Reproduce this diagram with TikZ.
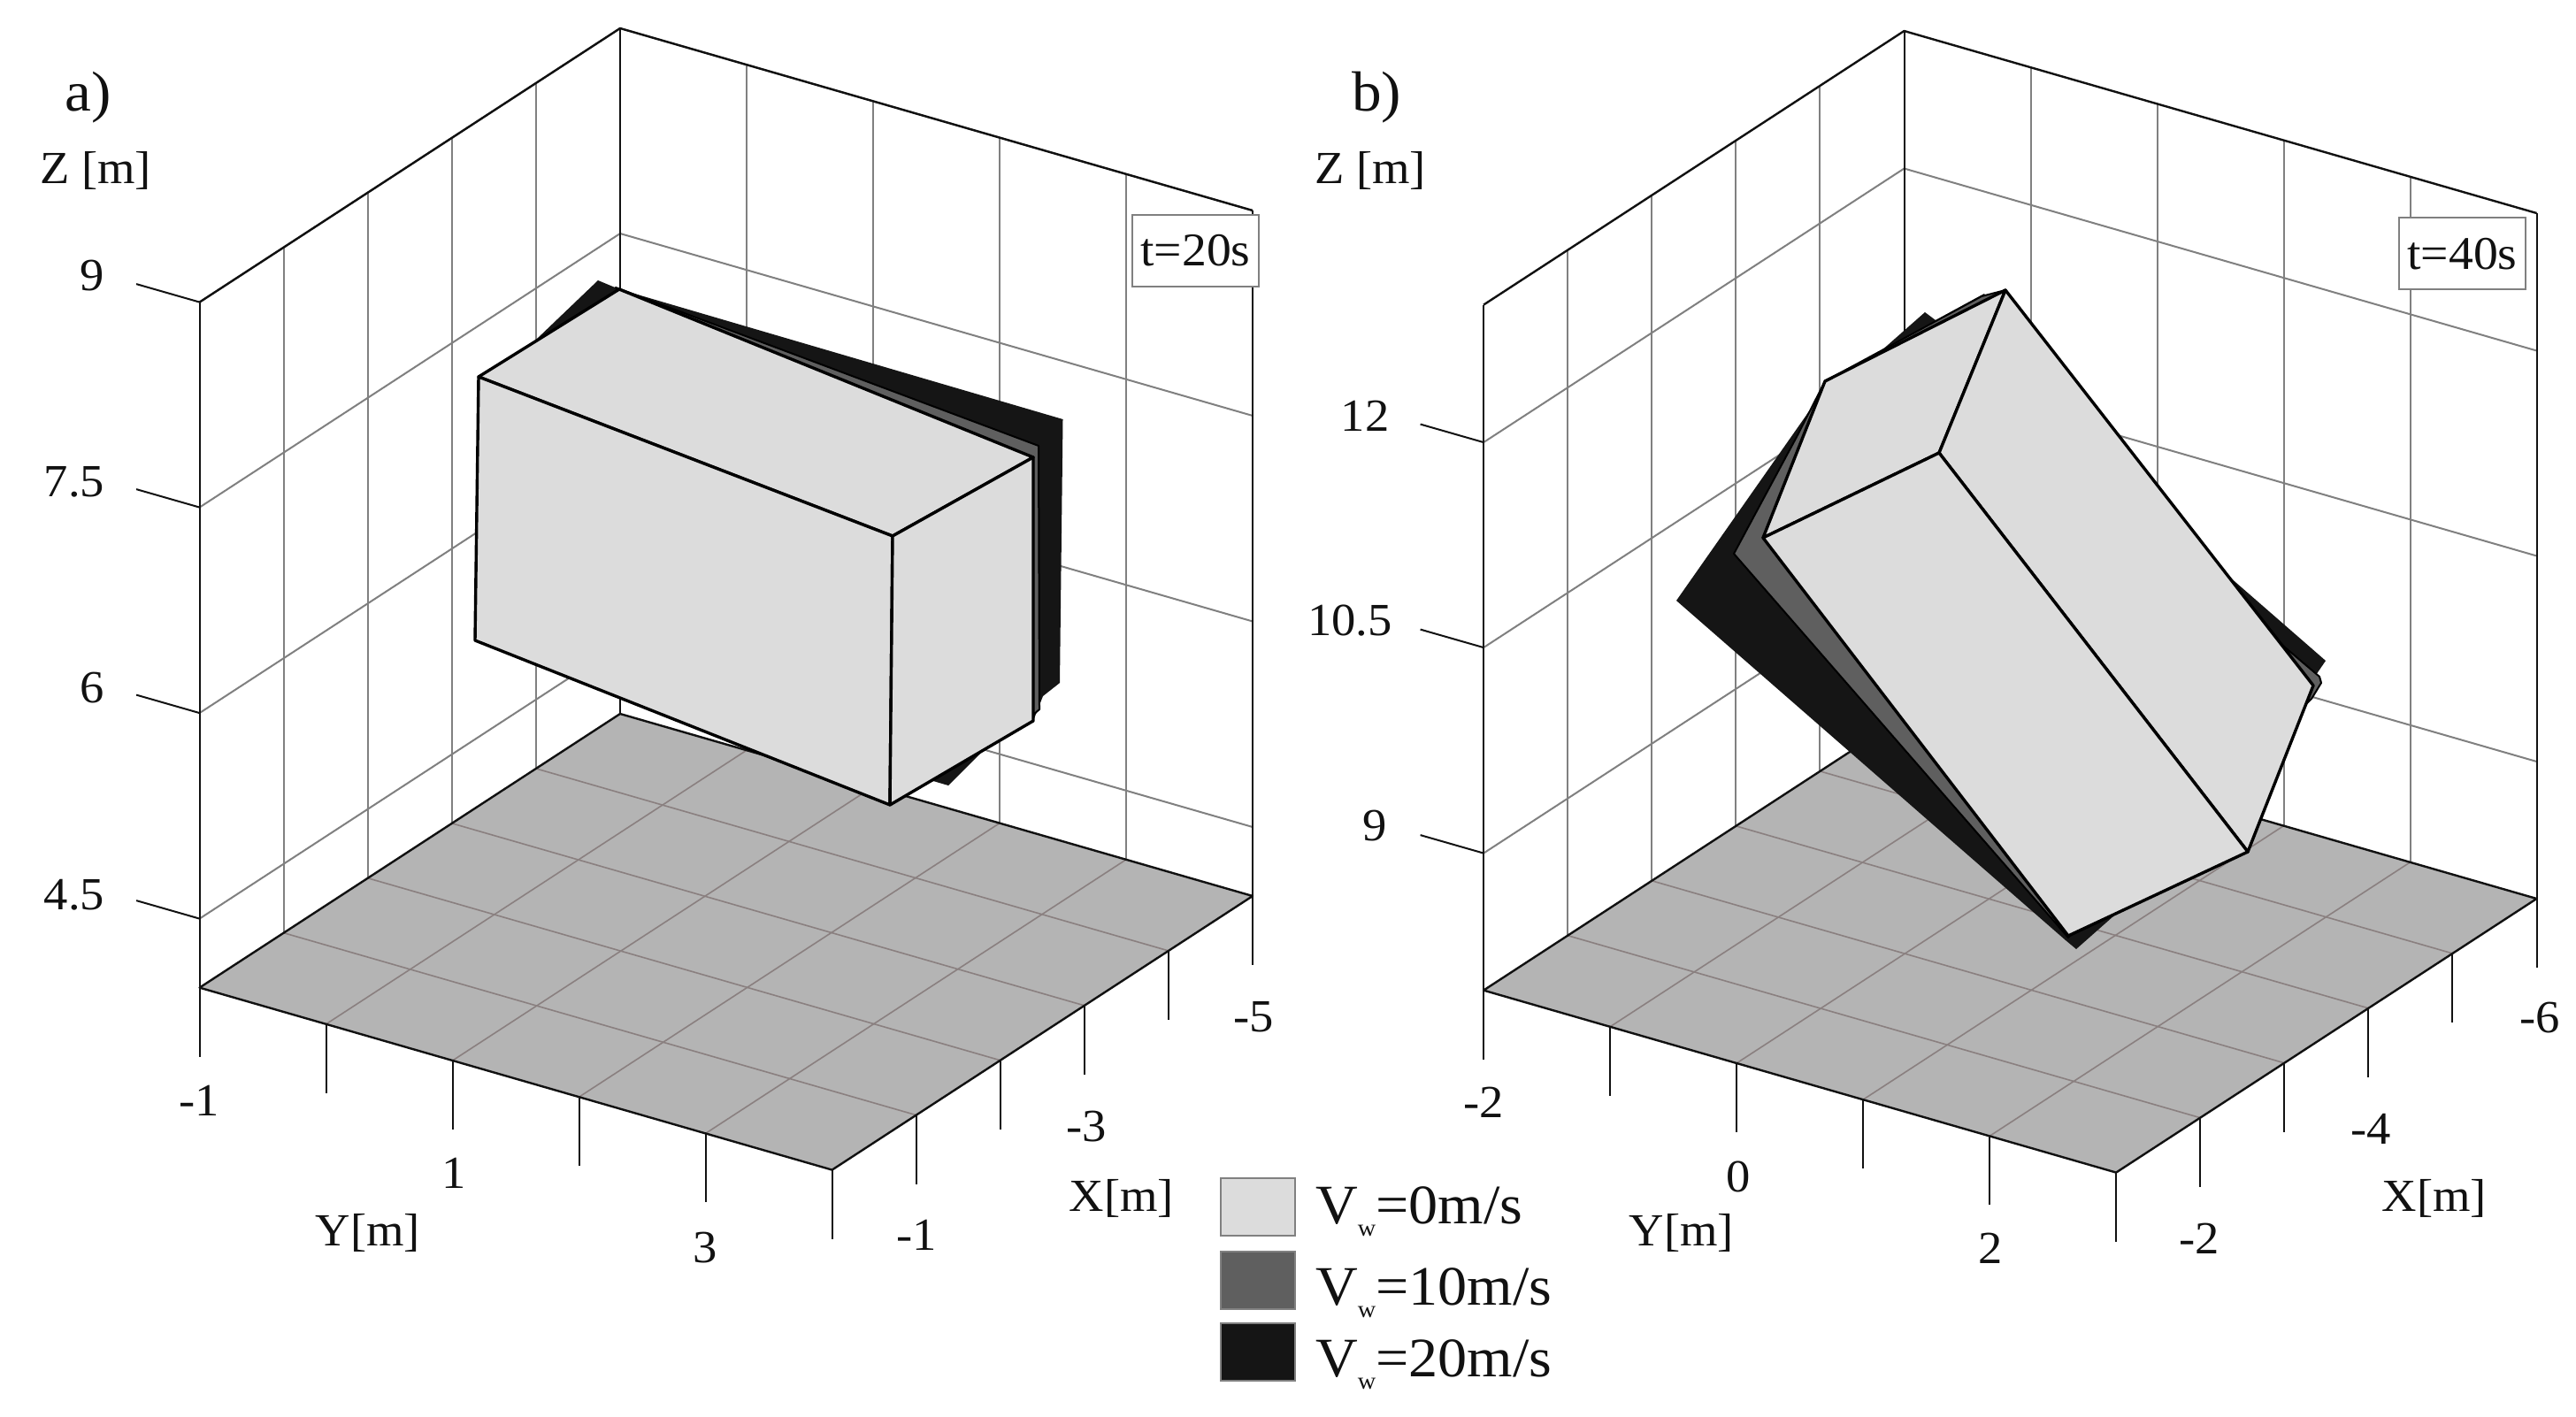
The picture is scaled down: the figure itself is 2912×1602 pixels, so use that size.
\documentclass[tikz,border=0pt]{standalone}
\usepackage{fontspec}
\setmainfont[FakeStretch=1.05]{Liberation Serif}
\usetikzlibrary{calc}
\definecolor{cLight}{HTML}{DCDCDC}
\definecolor{cMid}{HTML}{5F5F5F}
\definecolor{cDark}{HTML}{151515}
\definecolor{cFloor}{HTML}{B4B4B4}
\definecolor{cFloorGrid}{HTML}{8A8080}
\definecolor{cWall}{HTML}{808080}
\definecolor{cInk}{HTML}{111111}
\tikzset{
  wallgrid/.style={draw=cWall,line width=2pt},
  outline/.style={draw=cInk,line width=2.4pt},
  floorgrid/.style={draw=cFloorGrid,line width=1.6pt},
  tick/.style={draw=cInk,line width=2pt},
  facelight/.style={fill=cLight,draw=black,line width=3.4pt,line join=round},
  facemid/.style={fill=cMid,draw=black,line width=2pt,line join=round},
  facedark/.style={fill=cDark,draw=cDark,line width=1.5pt,line join=round},
  lab/.style={text=cInk,inner sep=0pt,font=\fontsize{52}{60}\selectfont},
  panellab/.style={lab,font=\fontsize{64}{70}\selectfont},
  timebox/.style={fill=white,draw=cWall,line width=2pt,inner sep=0pt,text=cInk,
    font=\fontsize{53}{60}\selectfont},
  legbox/.style={line width=2pt},
  legtext/.style={lab,anchor=west,font=\fontsize{63}{70}\selectfont},
}
\newcommand{\axesframe}[1]{%
  \coordinate (L) at (225.6,1116.6);
  \coordinate (B) at (701,807);
  \coordinate (R) at (1416,1013);
  \coordinate (F) at (940.6,1322.6);
  % wall vertical grid lines
  \foreach \i in {1,...,4}{
    \draw[wallgrid] ($(L)!\i/5!(B)$) -- ++(0,-775);
    \draw[wallgrid] ($(B)!\i/5!(R)$) -- ++(0,-775);
  }
  % wall horizontal grid lines
  \foreach \h in {#1}{
    \draw[wallgrid] ($(L)+(0,-\h)$) -- ($(B)+(0,-\h)$) -- ($(R)+(0,-\h)$);
    \draw[tick] ($(L)+(0,-\h)$) -- ($(L)+(-71.5,-\h-20.5)$);
  }
  % floor
  \fill[cFloor] (L) -- (B) -- (R) -- (F) -- cycle;
  \foreach \i in {1,...,4}{
    \draw[floorgrid] ($(L)!\i/5!(B)$) -- ($(F)!\i/5!(R)$);
    \draw[floorgrid] ($(B)!\i/5!(R)$) -- ($(L)!\i/5!(F)$);
  }
  \draw[outline,line join=round] (L) -- (B) -- (R) -- (F) -- cycle;
  % frame
  \draw[outline,line join=round] ($(L)+(0,-775)$) -- ($(B)+(0,-775)$) -- ($(R)+(0,-775)$);
  \draw[tick] (L) -- ++(0,-775);
  \draw[tick] (B) -- ++(0,-775);
  \draw[tick] (R) -- ++(0,-775);
  % ticks below the floor
  \foreach \i in {0,...,5}{
    \draw[tick] ($(L)!\i/5!(F)$) -- ++(0,78);
  }
  \foreach \i in {1,...,5}{
    \draw[tick] ($(F)!\i/5!(R)$) -- ++(0,78);
  }
}
\begin{document}
\begin{tikzpicture}[x=1pt,y=-1pt]
\useasboundingbox (0,0) rectangle (2912,1602);
\fill[white] (0,0) rectangle (2912,1602);

% ---------- panel a ----------
\begin{scope}
\axesframe{78,310.5,543,775}
\end{scope}
\fill[cDark] (607,383) -- (676,317) -- (700,327) -- (1201.5,474) -- (1198,772) -- (1179,787) -- (1168,815) -- (1113,847) -- (1072,888) -- (1055,883) -- (1006,905) -- (537,724) -- cycle;
\draw[facemid] (696,325) -- (1174,504) -- (1175,802) -- (1168,808) -- (1168,517) -- (698,327) -- cycle;
\draw[facelight] (541,426) -- (700,327) -- (1168,517) -- (1009,606) -- cycle;
\draw[facelight] (541,426) -- (1009,606) -- (1006,910) -- (537,724) -- cycle;
\draw[facelight] (1009,606) -- (1168,517) -- (1168,815) -- (1006,910) -- cycle;

\node[panellab] (pa) at (100,110) {a)};
\node[lab] (za) at (108,193) {Z [m]};
\node[lab] (z9a) at (104,312) {9};
\node[lab] (z75a) at (84,545) {7.5};
\node[lab] (z6a) at (104,778) {6};
\node[lab] (z45a) at (84,1012) {4.5};
\node[lab] (ya1) at (225,1244) {-1};
\node[lab] (ya2) at (513,1326) {1};
\node[lab] (ya3) at (797,1411) {3};
\node[lab] (yta) at (416,1394) {Y[m]};
\node[lab] (xa1) at (1036,1396) {-1};
\node[lab] (xa2) at (1228,1274) {-3};
\node[lab] (xa3) at (1417,1150) {-5};
\node[lab] (xta) at (1268,1355) {X[m]};
\node[timebox,minimum width=143pt,minimum height=81pt] (ta) at (1351.5,283.5) {\raisebox{-3pt}{t=20s}};

% ---------- panel b ----------
\begin{scope}[shift={(1451.5,3)}]
\axesframe{155,387.5,619.5}
\end{scope}
\fill[cDark] (1895,679) -- (2045,465) -- (2125,398) -- (2176,353) -- (2188,362) -- (2243,332) -- (2247,338) -- (2267,328) -- (2520,652) -- (2629,747) -- (2618,763) -- (2539,963) -- (2390,1035) -- (2347,1073) -- (2335,1063) -- cycle;
\draw[facemid] (1960,626) -- (2032,492) -- (2063,431) -- (2240,335) -- (2267,328) -- (2522,680) -- (2622,765) -- (2624,772) -- (2613,790) -- (2338,1060) -- cycle;
\draw[facelight] (2063,431) -- (2267,328) -- (2192,512) -- (1993,608) -- cycle;
\draw[facelight] (2267,328) -- (2615,775) -- (2541,963) -- (2192,512) -- cycle;
\draw[facelight] (1993,608) -- (2192,512) -- (2541,963) -- (2338,1058) -- cycle;

\node[panellab] (pb) at (1556,110) {b)};
\node[lab] (zb) at (1549,193) {Z [m]};
\node[lab] (z12b) at (1543,470) {12};
\node[lab] (z105b) at (1526,702) {10.5};
\node[lab] (z9b) at (1554,934) {9};
\node[lab] (yb1) at (1677,1246) {-2};
\node[lab] (yb2) at (1965,1330) {0};
\node[lab] (yb3) at (2250,1411) {2};
\node[lab] (ytb) at (1901,1394) {Y[m]};
\node[lab] (xb1) at (2486,1400) {-2};
\node[lab] (xb2) at (2680,1276) {-4};
\node[lab] (xb3) at (2871,1151) {-6};
\node[lab] (xtb) at (2752,1355) {X[m]};
\node[timebox,minimum width=143pt,minimum height=81pt] (tb) at (2783.5,287) {\raisebox{-3pt}{t=40s}};

% ---------- legend ----------
\newcommand{\vw}{V\raisebox{-14pt}{\fontsize{27}{27}\selectfont w}}
\node[legbox,draw=cWall,fill=cLight,minimum width=84pt,minimum height=65pt,inner sep=0pt] (l1) at (1422,1364.5) {};
\node[legbox,draw=cWall,fill=cMid,minimum width=84pt,minimum height=65pt,inner sep=0pt] (l2) at (1422,1447.5) {};
\node[legbox,draw=cWall,fill=cDark,minimum width=84pt,minimum height=65pt,inner sep=0pt] (l3) at (1422,1528) {};
\node[legtext] (t1) at (1487,1370) {\vw=0m/s};
\node[legtext] (t2) at (1487,1462) {\vw=10m/s};
\node[legtext] (t3) at (1487,1543) {\vw=20m/s};
\end{tikzpicture}
\end{document}
